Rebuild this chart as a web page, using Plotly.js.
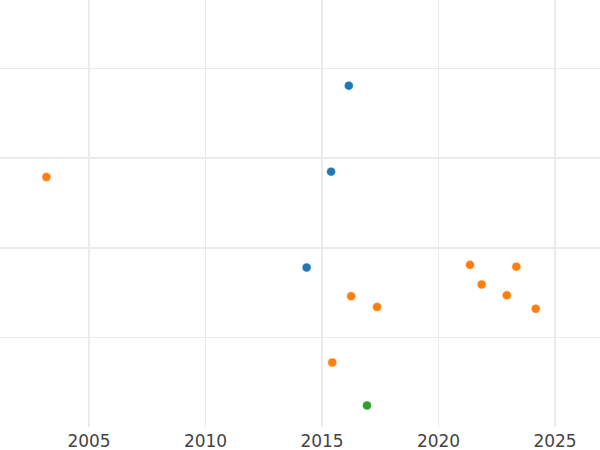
<!DOCTYPE html>
<html>
<head>
<meta charset="utf-8">
<script src="https://cdn.plot.ly/plotly-3.0.1.min.js"></script>
<style>html,body{margin:0;padding:0;background:#fff;}#chart{width:600px;height:450px;}</style>
</head>
<body>
<div id="chart"></div>
<script>
const blueX = [2016.15, 2015.39, 2014.34];
const blueY = [3.81, 2.85, 1.78];
const orangeX = [2003.17, 2016.25, 2017.36, 2015.44, 2021.35, 2021.85, 2022.93, 2023.34, 2024.17];
const orangeY = [2.79, 1.46, 1.34, 0.72, 1.81, 1.59, 1.47, 1.79, 1.32];
const greenX = [2016.93];
const greenY = [0.24];
const xTicks = [2005, 2010, 2015, 2020, 2025];
const xTickLabels = ["2005", "2010", "2015", "2020", "2025"];

function series(x, y, color) {
  return {x: x, y: y, type: 'scatter', mode: 'markers',
    marker: {color: color, size: 9, line: {color: '#ffffff', width: 0.5}},
    showlegend: false, hoverinfo: 'x+y'};
}

const data = [
  series(blueX, blueY, '#1f77b4'),
  series(orangeX, orangeY, '#ff7f0e'),
  series(greenX, greenY, '#2ca02c')
];

const layout = {
  width: 600, height: 450,
  margin: {l: 0, r: 0, t: 0, b: 23, pad: 0},
  paper_bgcolor: '#ffffff', plot_bgcolor: '#ffffff',
  font: {family: 'DejaVu Sans', size: 17, color: '#444444'},
  xaxis: {range: [2001.18, 2026.93], tickmode: 'array', tickvals: xTicks, ticktext: xTickLabels,
    showgrid: true, gridcolor: '#ebebeb', gridwidth: 1.5, zeroline: false, showline: false,
    ticks: '', ticklen: 0, ticklabelstandoff: 2,
    tickfont: {family: 'DejaVu Sans', size: 17, color: '#444444'}},
  yaxis: {range: [0, 4.766], dtick: 1, tick0: 0, showticklabels: false,
    showgrid: true, gridcolor: '#ebebeb', gridwidth: 1.5, zeroline: false, showline: false, ticks: ''}
};

Plotly.newPlot('chart', data, layout, {displayModeBar: false, staticPlot: true});
</script>
</body>
</html>
